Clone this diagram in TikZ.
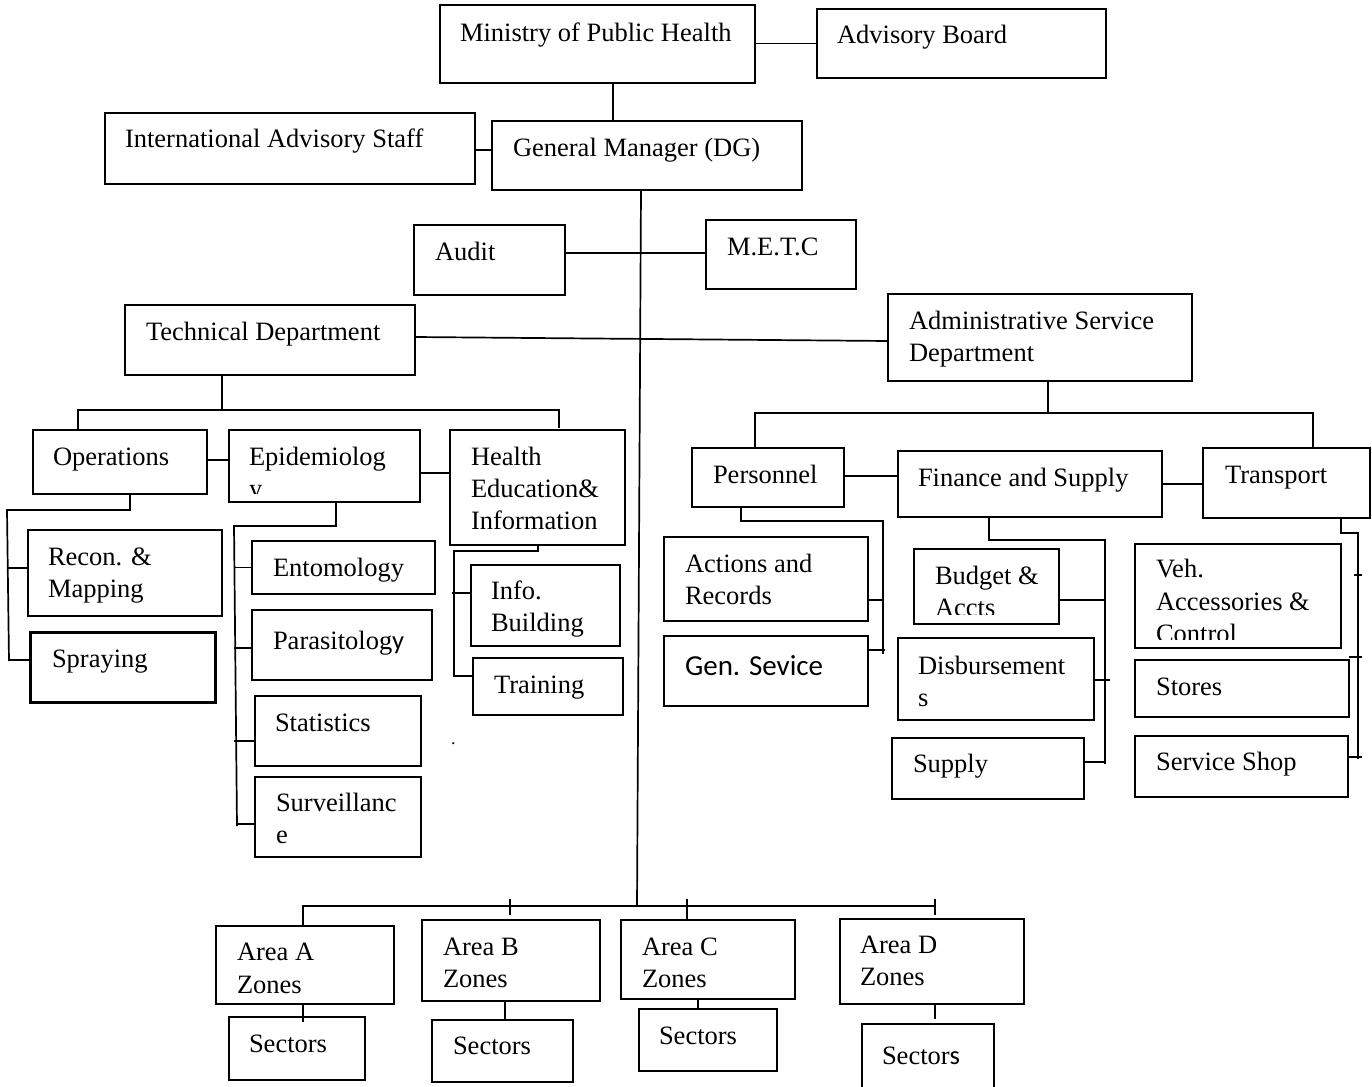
\documentclass[tikz,border=0pt]{standalone}
\usepackage{fontspec}
\setmainfont{Liberation Serif}
\newfontfamily\carlito{Carlito}
\newcommand\mybox[5]{\node[box, minimum width=#4, minimum height=#5] (#1) at (#2,#3) {};}
\newcommand\mytxt[4]{\node[txt] (#1) at (#2,#3) {#4};}
\begin{document}
\begin{tikzpicture}[x=1pt,y=-1pt,
  box/.style={draw=black, line width=1.7pt, inner sep=0pt, outer sep=0pt},
  txt/.style={anchor=base west, inner sep=0pt, outer sep=0pt, font=\fontsize{26.5}{32}\selectfont},
  conn/.style={draw=black, line width=1.7pt}]
\useasboundingbox (0,0) rectangle (1372,1086);
\fill[white] (0,0) rectangle (1372,1086);

% ---------- boxes ----------
\mybox{min}{597.5}{44}{315}{78}
\mybox{ab}{961.5}{43.5}{289}{69}
\mybox{ias}{290}{148.5}{370}{71}
\mybox{gm}{647}{155.5}{310}{69}
\mybox{audit}{489.5}{260}{151}{70}
\mybox{metc}{781}{254.5}{150}{69}
\mybox{tech}{270}{340}{290}{70}
\mybox{adm}{1040}{337.5}{304}{87}
\mybox{ops}{120}{462}{174}{64}
\mybox{epi}{324.5}{466}{191}{72}
\mybox{hed}{537.5}{487.5}{175}{115}
\mybox{rec}{125}{573}{194}{86}
\node[box, line width=3pt, minimum width=185, minimum height=70] (spr) at (122.5,667) {};
\mybox{ent}{343.5}{567.5}{183}{53}
\mybox{par}{342}{645}{180}{70}
\mybox{sta}{338}{731}{166}{70}
\mybox{sur}{338}{817}{166}{80}
\mybox{inf}{545.5}{605.5}{149}{81}
\mybox{tra}{548}{686.5}{150}{57}
\mybox{per}{768}{477.5}{152}{59}
\mybox{fin}{1030}{484}{264}{66}
\mybox{trn}{1286.5}{483}{167}{70}
\mybox{act}{766}{579}{204}{84}
\mybox{gen}{766}{671}{204}{70}
\mybox{bud}{986.5}{586.5}{145}{75}
\mybox{dis}{996}{679}{196}{82}
\mybox{sup}{988}{768.5}{192}{61}
\mybox{veh}{1238}{596}{206}{104}
\mybox{sto}{1242}{688.5}{214}{57}
\mybox{svc}{1241.5}{766.5}{213}{61}
\mybox{aa}{305}{965}{178}{78}
\mybox{ab2}{511}{960.5}{178}{81}
\mybox{ac}{708}{959.5}{174}{79}
\mybox{ad}{932}{961.5}{184}{85}
\mybox{sa}{297}{1048.5}{136}{63}
\mybox{sb}{502.5}{1051}{141}{62}
\mybox{sc}{708}{1040}{138}{62}
\mybox{sd}{928}{1057}{132}{66}

% ---------- texts ----------
\mytxt{t-min}{460}{42}{Ministry of Public Health}
\mytxt{t-ab}{837}{44}{Advisory Board}
\mytxt{t-ias}{125}{148}{International Advisory Staff}
\mytxt{t-gm}{513}{157}{General Manager (DG)}
\mytxt{t-audit}{435}{260}{Audit}
\mytxt{t-metc}{727}{255}{M.E.T.C}
\mytxt{t-tech}{146}{340}{Technical Department}
\mytxt{t-adm1}{909}{329}{Administrative Service}
\mytxt{t-adm2}{909}{361}{Department}
\mytxt{t-ops}{53}{465}{Operations}
\mytxt{t-epi1}{249}{465}{Epidemiolog}
\begin{scope}
\clip (232,432) rectangle (418,493);
\mytxt{t-epi2}{249}{497}{y}
\end{scope}
\mytxt{t-hed1}{471}{465}{Health}
\mytxt{t-hed2}{471}{497}{Education\&}
\mytxt{t-hed3}{471}{529}{Information}
\mytxt{t-rec1}{48}{565}{Recon. \&}
\mytxt{t-rec2}{48}{597}{Mapping}
\mytxt{t-spr}{52}{667}{Spraying}
\mytxt{t-ent}{273}{576}{Entomology}
\mytxt{t-par}{273}{649}{Parasitolog{\carlito y}}
\mytxt{t-sta}{275}{731}{Statistics}
\mytxt{t-sur1}{276}{811}{Surveillanc}
\mytxt{t-sur2}{276}{843}{e}
\mytxt{t-inf1}{491}{599}{Info.}
\mytxt{t-inf2}{491}{631}{Building}
\mytxt{t-tra}{494}{693}{Training}
\node[anchor=base west, inner sep=0pt, font=\fontsize{18}{20}\selectfont] (t-dot) at (451,744) {.};
\mytxt{t-per}{713}{483}{Personnel}
\mytxt{t-fin}{918}{486}{Finance and Supply}
\mytxt{t-trn}{1225}{483}{Transport}
\mytxt{t-act1}{685}{572}{Actions and}
\mytxt{t-act2}{685}{604}{Records}
\node[txt, font=\carlito\fontsize{29}{34}\selectfont] (t-gen) at (685,675) {Gen. Sevice};
\mytxt{t-bud1}{935}{584}{Budget \&}
\begin{scope}
\clip (916,551) rectangle (1057,614);
\mytxt{t-bud2}{935}{616}{Accts}
\end{scope}
\mytxt{t-dis1}{918}{674}{Disbursement}
\mytxt{t-dis2}{918}{706}{s}
\mytxt{t-sup}{913}{772}{Supply}
\mytxt{t-veh1}{1156}{577}{Veh.}
\mytxt{t-veh2}{1156}{610}{Accessories \&}
\begin{scope}
\clip (1137,546) rectangle (1339,639);
\mytxt{t-veh3}{1156}{642}{Control}
\end{scope}
\mytxt{t-sto}{1156}{695}{Stores}
\mytxt{t-svc}{1156}{770}{Service Shop}
\mytxt{t-aa1}{237}{960}{Area A}
\mytxt{t-aa2}{237}{993}{Zones}
\mytxt{t-ab21}{443}{955}{Area B}
\mytxt{t-ab22}{443}{987}{Zones}
\mytxt{t-ac1}{642}{955}{Area C}
\mytxt{t-ac2}{642}{987}{Zones}
\mytxt{t-ad1}{860}{953}{Area D}
\mytxt{t-ad2}{860}{985}{Zones}
\mytxt{t-sa}{249}{1052}{Sectors}
\mytxt{t-sb}{453}{1054}{Sectors}
\mytxt{t-sc}{659}{1044}{Sectors}
\mytxt{t-sd}{882}{1064}{Sector{\carlito s}}

% ---------- coordinates ----------
\coordinate (tbar) at (222,410);
\coordinate (ol) at (7,510);
\coordinate (ob) at (9,661);
\coordinate (el) at (234,526);
\coordinate (eb) at (237,826);
\coordinate (hl) at (454,551);
\coordinate (hb) at (454,677);
\coordinate (hx) at (452,551);
\coordinate (abar) at (1048,413);
\coordinate (pr) at (883,521);
\coordinate (pb) at (883,654);
\coordinate (px) at (885,521);
\coordinate (fr) at (1105,540);
\coordinate (fb) at (1105,764);
\coordinate (fx) at (1110,540);
\coordinate (trr) at (1358,533);
\coordinate (trb) at (1358,759);
\coordinate (barL) at (303,906);
\coordinate (barR) at (935,906);
\coordinate (trunk) at (637,906);

% ---------- connectors ----------
\draw[conn] (ab.west) -- (ab.west -| min.east);
\draw[conn] ([xshift=15.5]min.south) -- ([xshift=15.5]min.south |- gm.north);
\draw[conn] ([yshift=-1.5]ias.east) -- ([yshift=-1.5]ias.east -| gm.west);
\draw[conn] ([xshift=-6]gm.south) -- (trunk);
\draw[conn] ([yshift=1.5]metc.west) -- ([yshift=1.5]metc.west -| audit.east);
\draw[conn] ([yshift=3]tech.east) -- ([yshift=-3.5]adm.west);

% technical department
\draw[conn] ([xshift=-48]tech.south) -- (tbar);
\draw[conn] ([xshift=-42]ops.north) |- (tbar) -| ([xshift=21.5,yshift=2]hed.north);
\draw[conn] ([yshift=2]ops.east) -- ([yshift=2]ops.east -| epi.west);
\draw[conn] ([yshift=-7]epi.east) -- ([yshift=-7]epi.east -| hed.west);
% operations
\draw[conn] ([xshift=10]ops.south) |- (ol) -- (ob);
\draw[conn] ([yshift=5]rec.west) -- ([yshift=5]rec.west -| ol);
\draw[conn] ([yshift=7]spr.west) -- ([yshift=7]spr.west -| ob);
% epidemiology
\draw[conn] ([xshift=11.5]epi.south) |- (el) -- (eb);
\draw[conn] (ent.west) -- (ent.west -| el);
\draw[conn] ([yshift=-3]par.west) -- ([yshift=-3]par.west -| el);
\draw[conn] ([yshift=-10]sta.west) -- ([yshift=-10]sta.west -| el);
\draw[conn] ([yshift=-7]sur.west) -- ([yshift=-7]sur.west -| eb);
% health education
\draw[conn] ([xshift=0.5]hed.south) |- (hl) -- (hb);
\draw[conn] ([yshift=12.5]inf.west) -- ([yshift=12.5]inf.west -| hx);
\draw[conn] ([yshift=10.5]tra.west) -- ([yshift=10.5]tra.west -| hl);

% administrative
\draw[conn] ([xshift=8]adm.south) -- (abar);
\draw[conn] ([xshift=-13]per.north) |- (abar) -| ([xshift=26.5]trn.north);
\draw[conn] ([yshift=1.5]per.east) -- ([yshift=1.5]per.east -| fin.west);
\draw[conn] (fin.east) -- (fin.east -| trn.west);
% personnel
\draw[conn] ([xshift=-27]per.south) |- (pr) -- (pb);
\draw[conn] ([yshift=-21]act.east) -- ([yshift=-21]act.east -| pr);
\draw[conn] ([yshift=21]gen.east) -- ([yshift=21]gen.east -| px);
% finance
\draw[conn] ([xshift=-41]fin.south) |- (fr) -- (fb);
\draw[conn] ([yshift=-13.5]bud.east) -- ([yshift=-13.5]bud.east -| fr);
\draw[conn] ([yshift=-1]dis.east) -- ([yshift=-1]dis.east -| fx);
\draw[conn] ([yshift=6.5]sup.east) -- ([yshift=6.5]sup.east -| fb);
% transport
\draw[conn] ([xshift=54.5]trn.south) |- (trr) -- (trb);
\draw[conn] ([xshift=13,yshift=21]veh.east) -- ([xshift=21,yshift=21]veh.east);
\draw[conn] ([yshift=3]sto.north east) -- ([xshift=13,yshift=3]sto.north east);
\draw[conn] ([yshift=9.5]svc.east) -- ([xshift=14,yshift=9.5]svc.east);

% areas
\draw[conn] ([xshift=-2]aa.north) -- (barL) -- (barR);
\draw[conn] ([xshift=-1,yshift=5]ab2.north) -- ([xshift=-1,yshift=21]ab2.north);
\draw[conn] ([xshift=-21]ac.north) -- ([xshift=-21,yshift=21]ac.north);
\draw[conn] ([xshift=3,yshift=4]ad.north) -- ([xshift=3,yshift=20]ad.north);
\draw[conn] ([xshift=-2]aa.south) -- ([xshift=6,yshift=-5]sa.north);
\draw[conn] ([xshift=-6]ab2.south) -- ([xshift=2.5]sb.north);
\draw[conn] ([xshift=-10]ac.south) -- ([xshift=-10]sc.north);
\draw[conn] ([xshift=3]ad.south) -- ([xshift=3,yshift=-15]ad.south);
\end{tikzpicture}
\end{document}
